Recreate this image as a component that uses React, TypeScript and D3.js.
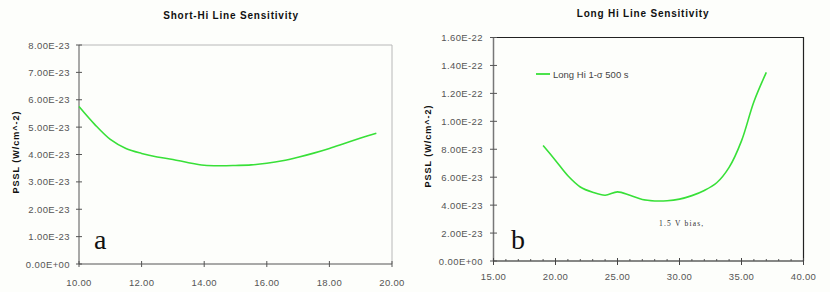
import React from "react";
import * as d3 from "d3";

// Short-Hi data (x in um, PSSL in units of 1e-23 W/cm^2)
const shortX = [10, 10.5, 11, 11.5, 12, 12.5, 13, 13.5, 14, 14.5, 15, 15.5, 16, 16.5, 17, 17.5, 18, 18.5, 19, 19.5];
const shortY = [5.75, 5.1, 4.55, 4.22, 4.04, 3.91, 3.82, 3.7, 3.61, 3.59, 3.6, 3.62, 3.68, 3.77, 3.9, 4.05, 4.22, 4.41, 4.6, 4.78];
const shortYTicks = [0, 1, 2, 3, 4, 5, 6, 7, 8];
const shortXTicks = [10, 12, 14, 16, 18, 20];

// Long-Hi data
const longX = [19, 20, 21, 22, 23, 24, 25, 26, 27, 28, 29, 30, 31, 32, 33, 34, 35, 36, 37];
const longY = [8.27, 7.2, 6.1, 5.3, 4.92, 4.71, 4.95, 4.7, 4.4, 4.3, 4.31, 4.43, 4.68, 5.05, 5.6, 6.7, 8.6, 11.4, 13.5];
const longYTicks = [0, 2, 4, 6, 8, 10, 12, 14, 16];
const longXTicks = [15, 20, 25, 30, 35, 40];
const longXMinor = d3.range(15, 41, 1);

const FONT = "'Liberation Sans', Arial, sans-serif";
const SERIF = "'Liberation Serif', 'Times New Roman', serif";
const GREEN = "#38e038";

const fmtY = (v: number) => {
  if (v === 0) return "0.00E+00";
  const e = Math.floor(Math.log10(v * 1e-23) + 1e-9);
  const m = (v * 1e-23) / Math.pow(10, e);
  return `${m.toFixed(2)}E${e}`;
};

export default function App() {
  // left panel
  const xL = d3.scaleLinear().domain([10, 20]).range([79, 392]);
  const yL = d3.scaleLinear().domain([0, 8]).range([264, 45]);
  // right panel
  const xR = d3.scaleLinear().domain([15, 40]).range([493.5, 803.5]);
  const yR = d3.scaleLinear().domain([0, 16]).range([261, 37.5]);

  const lineL = d3
    .line<number>()
    .x((_, i) => xL(shortX[i]))
    .y((d) => yL(d))
    .curve(d3.curveCatmullRom);
  const lineR = d3
    .line<number>()
    .x((_, i) => xR(longX[i]))
    .y((d) => yR(d))
    .curve(d3.curveCatmullRom);

  return (
    <svg
      width={830}
      height={292}
      style={{ position: "absolute", left: 0, top: 0, background: "#fdfefb" }}
    >
      {/* ---------- left: Short-Hi ---------- */}
      <text x={231} y={19} textAnchor="middle" fontFamily={FONT} fontSize={10} fontWeight="bold" letterSpacing={0.8} fill="#111">
        Short-Hi Line Sensitivity
      </text>
      <path d={`M79,45H392V264`} fill="none" stroke="#b8b8b8" strokeWidth={1} />
      <line x1={79} x2={79} y1={45} y2={264} stroke="#555" />
      <line x1={79} x2={392} y1={264} y2={264} stroke="#555" />
      {shortYTicks.map((t) => (
        <g key={"yl" + t}>
          <line x1={76} x2={82} y1={yL(t)} y2={yL(t)} stroke="#555" />
          <text x={70} y={yL(t) + 3.5} textAnchor="end" fontFamily={FONT} fontSize={9.5} letterSpacing={0.4} fill="#555">
            {fmtY(t)}
          </text>
        </g>
      ))}
      {shortXTicks.map((t) => (
        <g key={"xl" + t}>
          <line x1={xL(t)} x2={xL(t)} y1={261} y2={267} stroke="#555" />
          <text x={xL(t)} y={286} textAnchor="middle" fontFamily={FONT} fontSize={9.5} letterSpacing={0.3} fill="#555">
            {t.toFixed(2)}
          </text>
        </g>
      ))}
      <text
        transform="translate(19,152) rotate(-90)"
        textAnchor="middle"
        fontFamily={FONT}
        fontSize={9}
        fontWeight="bold"
        letterSpacing={1}
        fill="#111"
      >
        PSSL (W/cm^-2)
      </text>
      <path d={lineL(shortY) ?? ""} fill="none" stroke={GREEN} strokeWidth={1.6} />
      <text x={94} y={249} fontFamily={SERIF} fontSize={28} fill="#111">
        a
      </text>

      {/* ---------- right: Long Hi ---------- */}
      <text x={643} y={17} textAnchor="middle" fontFamily={FONT} fontSize={10} fontWeight="bold" letterSpacing={0.8} fill="#111">
        Long Hi Line Sensitivity
      </text>
      <path d={`M493.5,37.5H803.5V261`} fill="none" stroke="#222" strokeWidth={1.2} />
      <line x1={493.5} x2={493.5} y1={37.5} y2={261} stroke="#777" strokeWidth={1.5} />
      <line x1={493.5} x2={804} y1={261} y2={261} stroke="#111" strokeWidth={1.2} />
      {longXMinor.map((t) => (
        <line key={"mr" + t} x1={xR(t)} x2={xR(t)} y1={259} y2={261} stroke="#555" />
      ))}
      {longYTicks.map((t) => (
        <g key={"yr" + t}>
          <line x1={490} x2={497} y1={yR(t)} y2={yR(t)} stroke="#555" />
          <text x={483} y={yR(t) + 3.5} textAnchor="end" fontFamily={FONT} fontSize={9.5} letterSpacing={0.4} fill="#555">
            {fmtY(t)}
          </text>
        </g>
      ))}
      {longXTicks.map((t) => (
        <g key={"xr" + t}>
          <line x1={xR(t)} x2={xR(t)} y1={258} y2={265} stroke="#444" />
          <text x={xR(t)} y={280} textAnchor="middle" fontFamily={FONT} fontSize={9.5} letterSpacing={0.3} fill="#555">
            {t.toFixed(2)}
          </text>
        </g>
      ))}
      <text
        transform="translate(431,146) rotate(-90)"
        textAnchor="middle"
        fontFamily={FONT}
        fontSize={9}
        fontWeight="bold"
        letterSpacing={1}
        fill="#111"
      >
        PSSL (W/cm^-2)
      </text>
      <path d={lineR(longY) ?? ""} fill="none" stroke={GREEN} strokeWidth={1.6} />
      <line x1={536} x2={550} y1={74} y2={74} stroke={GREEN} strokeWidth={1.8} />
      <text x={553} y={77.5} fontFamily={FONT} fontSize={9.5} fill="#444">
        Long Hi 1-σ 500 s
      </text>
      <text x={659} y={226} fontFamily={SERIF} fontSize={7.5} letterSpacing={1.2} fill="#333">
        1.5 V bias,
      </text>
      <text x={511} y={249} fontFamily={SERIF} fontSize={28} fill="#111">
        b
      </text>
    </svg>
  );
}
